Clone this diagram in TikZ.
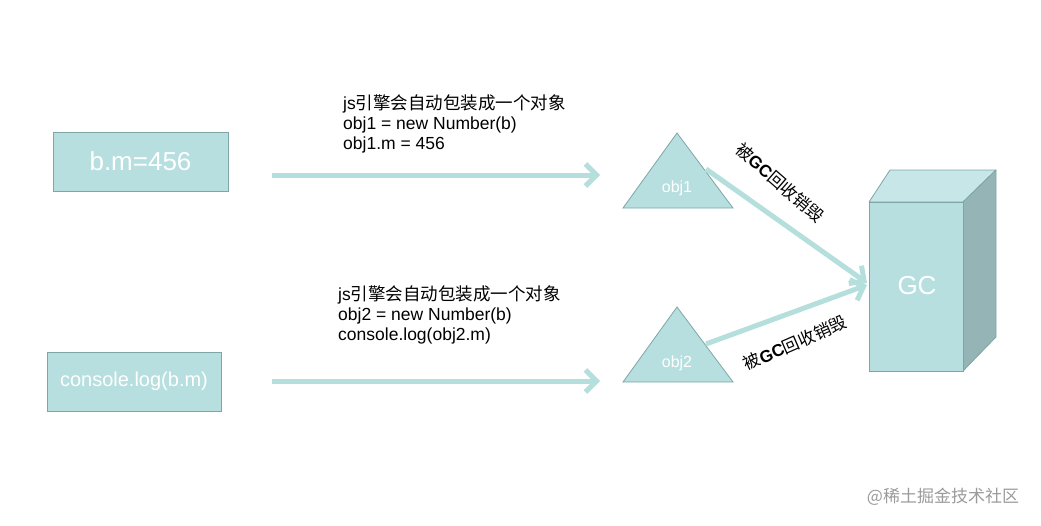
\documentclass[tikz,border=0pt]{standalone}
\usepackage{fontspec}
\setmainfont{Liberation Sans}
\newfontfamily\cjk{Noto Sans CJK SC}
\usetikzlibrary{arrows.meta}
\definecolor{boxfill}{HTML}{B7DFE0}
\definecolor{boxline}{HTML}{7FA6A7}
\definecolor{arrowc}{HTML}{B5DFDC}
\definecolor{topface}{HTML}{C6E6E7}
\definecolor{sideface}{HTML}{95B4B5}
\definecolor{wm}{HTML}{9A9A9A}
\tikzset{
  codebox/.style={draw=boxline, fill=boxfill, line width=0.8pt, text=white, inner sep=0pt},
  flow/.style={draw=arrowc, line width=5pt, -{Straight Barb[length=11pt,width=22pt]}},
  note/.style={anchor=base west, align=left, font=\fontsize{17.5}{20}\selectfont, inner sep=0pt},
  gclabel/.style={font=\fontsize{17}{19}\selectfont, inner sep=0pt},
  tri/.style={draw=boxline, fill=boxfill, line width=0.8pt, line join=miter},
}
\begin{document}
\begin{tikzpicture}[x=1pt,y=-1pt]
\useasboundingbox (0,0) rectangle (1041,525);
% left boxes
\node[codebox, minimum width=175pt, minimum height=59pt, font=\fontsize{26}{28}\selectfont] (bm) at (140.5,161.5) {b.m=456};
\node[codebox, minimum width=174pt, minimum height=59pt, font=\fontsize{20}{22}\selectfont] (cl) at (134,381.5) {console.log(b.m)};
% notes (base anchor = baseline of last line)
\node[note] (n1) at (343,149) {js{\cjk 引擎会自动包装成一个对象}\\obj1 = new Number(b)\\obj1.m = 456};
\node[note] (n2) at (338,340) {js{\cjk 引擎会自动包装成一个对象}\\obj2 = new Number(b)\\console.log(obj2.m)};
% triangles
\path[tri] (677,133) -- (733,208) -- (623,208) -- cycle;
\node[text=white, font=\fontsize{16}{18}\selectfont, inner sep=0pt] (obj1) at (677,188) {obj1};
\path[tri] (677,307) -- (733,382) -- (623,382) -- cycle;
\node[text=white, font=\fontsize{16}{18}\selectfont, inner sep=0pt] (obj2) at (677,363) {obj2};
% GC cuboid
\fill[topface, draw=boxline, line width=0.8pt, line join=round] (869,202) -- (890,170) -- (996,170) -- (963,202) -- cycle;
\fill[sideface, draw=boxline, line width=0.8pt, line join=round] (963,202) -- (996,170) -- (996,337) -- (963,371) -- cycle;
\node[draw=boxline, fill=boxfill, line width=0.8pt, minimum width=94pt, minimum height=169pt, inner sep=0pt, anchor=north west, text=white] (gc) at (869,202) {};
\node[text=white, font=\fontsize{26}{28}\selectfont, inner sep=0pt] (gct) at (917,286) {GC};
% connector coordinates
\coordinate (a1s) at (272,175);
\coordinate (a1e) at (600,175);
\coordinate (a2s) at (272,381);
\coordinate (a2e) at (600,381);
\coordinate (o1) at (706,169);
\coordinate (o2) at (706,344);
\coordinate (gin1) at (867,283);
\coordinate (gin2) at (867,285);
% arrows
\draw[flow] (a1s) -- (a1e);
\draw[flow] (a2s) -- (a2e);
\draw[flow] (o1) -- (gin1);
\draw[flow] (o2) -- (gin2);
% labels
\node[gclabel, rotate=-41] (l1) at (780,183) {{\cjk 被}\textbf{GC}{\cjk 回收销毁}};
\node[gclabel, rotate=23.5] (l2) at (795,343) {{\cjk 被}\textbf{GC}{\cjk 回收销毁}};
% watermark
\node[text=wm, font=\fontsize{17}{19}\selectfont, inner sep=0pt] (wmk) at (943,497) {{\cjk @稀土掘金技术社区}};
\end{tikzpicture}
\end{document}
